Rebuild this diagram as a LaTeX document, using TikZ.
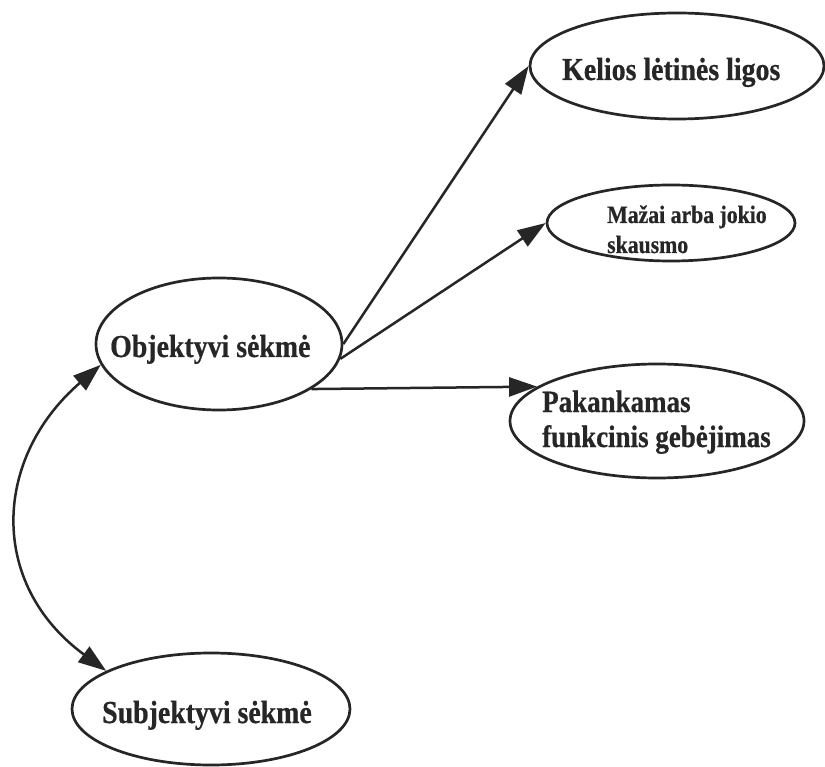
\documentclass[tikz,border=0pt]{standalone}
\usepackage{fontspec}
\newfontfamily\lbl{Liberation Serif}[FakeStretch=0.87,FakeBold=0.6]
\usetikzlibrary{arrows.meta,shapes.geometric}
\definecolor{ink}{HTML}{262626}
\begin{document}
\begin{tikzpicture}[x=1pt,y=-1pt,
  oval/.style={ellipse, draw=ink, line width=2.7pt, inner sep=0pt},
  lab/.style={text=ink, inner sep=0pt, anchor=base west, align=left,
    font=\lbl\bfseries\fontsize{32}{38}\selectfont},
  labsmall/.style={lab, font=\lbl\bfseries\fontsize{25}{30}\selectfont},
  labmid/.style={lab, font=\lbl\bfseries\fontsize{31}{35}\selectfont},
  tipA/.tip={Triangle[length=28pt,width=19pt]},
  conn/.style={draw=ink, line width=2.5pt, -tipA},
  conn2/.style={draw=ink, line width=2.5pt, tipA-tipA},
]
\path[use as bounding box, fill=white] (0,0) rectangle (825,767);

% ellipses
\node[oval, minimum width=294pt, minimum height=106pt] (kel) at (677,66) {};
\node[oval, minimum width=248pt, minimum height=76pt]  (maz) at (671,223) {};
\node[oval, minimum width=246pt, minimum height=132pt] (obj) at (219,344) {};
\node[oval, minimum width=294pt, minimum height=114pt] (pak) at (657,421) {};
\node[oval, minimum width=278pt, minimum height=112pt] (sub) at (211,709) {};

% texts (base anchor = baseline of last line)
\node[lab] (kelt) at (562,80) {Kelios lėtinės ligos};
\node[labsmall] (mazt) at (607,253) {Mažai arba jokio\\skausmo};
\node[lab] (objt) at (110,357) {Objektyvi sėkmė};
\node[labmid] (pakt) at (542,447) {Pakankamas\\funkcinis gebėjimas};
\node[lab] (subt) at (102,723) {Subjektyvi sėkmė};

% connectors
\draw[conn] (obj.east) -- (kel.west);
\draw[conn] (obj.-7) -- (maz.west);
\draw[conn] (obj.-26) -- (pak.164);
\draw[conn2] (obj.190) .. controls (-7,458) and (-12,584) .. (sub.160);
\end{tikzpicture}
\end{document}
